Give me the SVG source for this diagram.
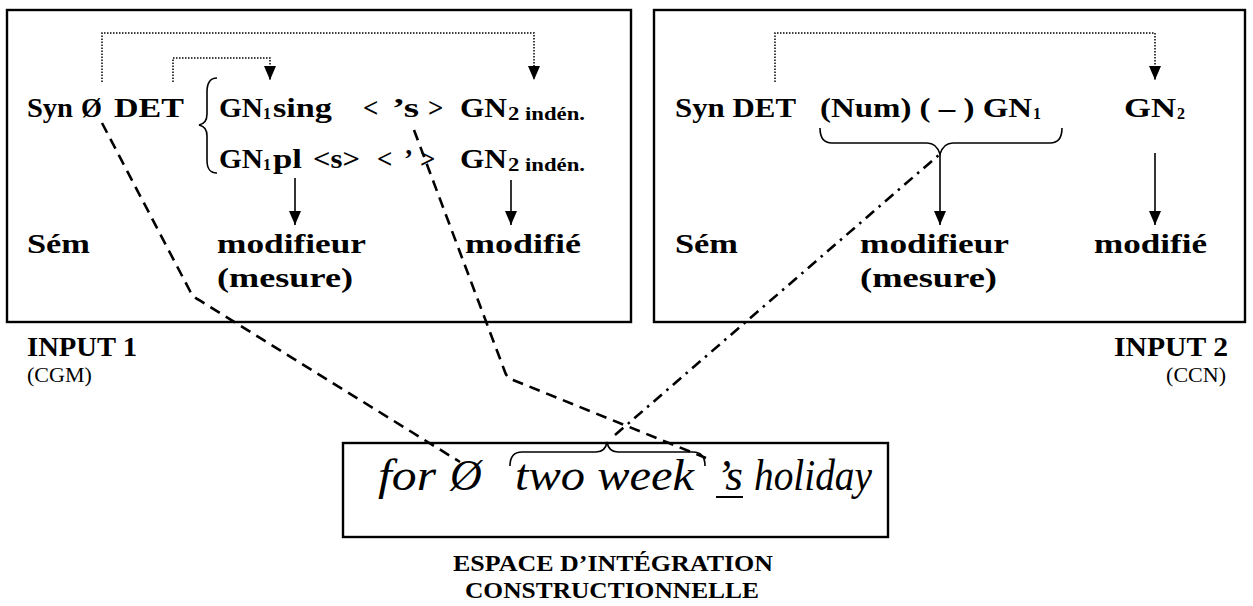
<svg xmlns="http://www.w3.org/2000/svg" width="1253" height="606" viewBox="0 0 1253 606">
<style>
.b{font-family:"Liberation Serif","Times New Roman",serif;font-weight:bold;font-size:27px;fill:#000}
.s{font-family:"Liberation Serif","Times New Roman",serif;font-weight:bold;font-size:16px;fill:#000}
.s2{font-family:"Liberation Serif","Times New Roman",serif;font-weight:bold;font-size:19px;fill:#000}
.r{font-family:"Liberation Serif","Times New Roman",serif;font-size:22px;fill:#000}
.lb{font-family:"Liberation Serif","Times New Roman",serif;font-weight:bold;font-size:24px;fill:#000}
.it{font-family:"Liberation Serif","Times New Roman",serif;font-style:italic;font-size:44px;fill:#000}
.box{fill:none;stroke:#000;stroke-width:2.4}
.dot{fill:none;stroke:#000;stroke-width:1.5;stroke-dasharray:1.5 1.5}
.sol{fill:none;stroke:#000;stroke-width:1.6}
.dash{fill:none;stroke:#000;stroke-width:2.6;stroke-dasharray:11 7}
.dd{fill:none;stroke:#000;stroke-width:2.6;stroke-dasharray:11 6 2.5 6}
.br{fill:none;stroke:#000;stroke-width:1.6}
</style>
<defs>
<marker id="ah" viewBox="0 0 14 12" refX="14" refY="6" markerWidth="14" markerHeight="12" orient="auto" markerUnits="userSpaceOnUse"><path d="M0,0 L14,6 L0,12 z" fill="#000" stroke="none"/></marker>
</defs>

<g id="input1">
<rect class="box" x="7" y="10" width="624" height="312"/>
<text class="b" x="27" y="117" textLength="46" lengthAdjust="spacingAndGlyphs">Syn</text>
<text class="b" x="81" y="117">Ø</text>
<text class="b" x="114" y="117" textLength="70" lengthAdjust="spacingAndGlyphs">DET</text>
<path class="br" d="M217 78 C209 78 207 84 207 92 L207 114 C207 121 204 124 199 125 C204 126 207 129 207 136 L207 160 C207 168 209 173 217 173"/>
<text class="b" x="219" y="117" textLength="44" lengthAdjust="spacingAndGlyphs">GN</text>
<text class="s" x="263" y="119">1</text>
<text class="b" x="273" y="117" textLength="59" lengthAdjust="spacingAndGlyphs">sing</text>
<text class="b" x="363" y="117">&lt;</text>
<text class="b" x="392" y="117" textLength="27" lengthAdjust="spacingAndGlyphs">’s</text>
<text class="b" x="428" y="117">&gt;</text>
<text class="b" x="460" y="117" textLength="47" lengthAdjust="spacingAndGlyphs">GN</text>
<text class="s2" x="508" y="120" textLength="77" lengthAdjust="spacingAndGlyphs">2 indén.</text>
<text class="b" x="219" y="168" textLength="44" lengthAdjust="spacingAndGlyphs">GN</text>
<text class="s" x="263" y="170">1</text>
<text class="b" x="273" y="168" textLength="29" lengthAdjust="spacingAndGlyphs">pl</text>
<text class="b" x="313" y="168" textLength="47" lengthAdjust="spacingAndGlyphs">&lt;s&gt;</text>
<text class="b" x="377" y="168">&lt;</text>
<text class="b" x="404" y="168">’</text>
<text class="b" x="420" y="168">&gt;</text>
<text class="b" x="460" y="168" textLength="47" lengthAdjust="spacingAndGlyphs">GN</text>
<text class="s2" x="508" y="171" textLength="77" lengthAdjust="spacingAndGlyphs">2 indén.</text>
<text class="b" x="27" y="253" textLength="63" lengthAdjust="spacingAndGlyphs">Sém</text>
<text class="b" x="217" y="253" textLength="149" lengthAdjust="spacingAndGlyphs">modifieur</text>
<text class="b" x="465" y="253" textLength="116" lengthAdjust="spacingAndGlyphs">modifié</text>
<text class="b" x="217" y="287" textLength="136" lengthAdjust="spacingAndGlyphs">(mesure)</text>
</g>

<g id="label1">
<text class="b" x="27" y="356" textLength="110" lengthAdjust="spacingAndGlyphs">INPUT 1</text>
<text class="r" x="27" y="382">(CGM)</text>
</g>

<g id="input2">
<rect class="box" x="654" y="10" width="591" height="312"/>
<text class="b" x="675" y="117" textLength="121" lengthAdjust="spacingAndGlyphs">Syn DET</text>
<text class="b" x="820" y="117" textLength="212" lengthAdjust="spacingAndGlyphs">(Num) ( – ) GN</text>
<text class="s" x="1033" y="119">1</text>
<text class="b" x="1124" y="117" textLength="52" lengthAdjust="spacingAndGlyphs">GN</text>
<text class="s" x="1177" y="119">2</text>
<path class="br" d="M820 128 C820 138 824 143 832 143 L927 143 C934 143 938 148 940 154 C942 148 946 143 953 143 L1050 143 C1058 143 1062 138 1062 128"/>
<text class="b" x="675" y="253" textLength="63" lengthAdjust="spacingAndGlyphs">Sém</text>
<text class="b" x="860" y="253" textLength="149" lengthAdjust="spacingAndGlyphs">modifieur</text>
<text class="b" x="1094" y="253" textLength="113" lengthAdjust="spacingAndGlyphs">modifié</text>
<text class="b" x="860" y="287" textLength="137" lengthAdjust="spacingAndGlyphs">(mesure)</text>
</g>

<g id="label2">
<text class="b" x="1228" y="356" text-anchor="end" textLength="114" lengthAdjust="spacingAndGlyphs">INPUT 2</text>
<text class="r" x="1226" y="382" text-anchor="end">(CCN)</text>
</g>

<g id="blend">
<rect class="box" x="343" y="443" width="545" height="94"/>
<text class="it" x="378" y="490" textLength="58" lengthAdjust="spacingAndGlyphs">for</text>
<text class="it" x="450" y="490">Ø</text>
<text class="it" x="515" y="490" textLength="179" lengthAdjust="spacingAndGlyphs">two week</text>
<text class="it" x="716" y="490" textLength="27" lengthAdjust="spacingAndGlyphs">’s</text>
<line x1="716" y1="497" x2="743" y2="497" stroke="#000" stroke-width="2"/>
<text class="it" x="754" y="490" textLength="118" lengthAdjust="spacingAndGlyphs">holiday</text>
<path class="br" d="M510 466 C510 456 514 452 522 452 L596 452 C603 452 606 448 607 442 C608 448 611 452 618 452 L693 452 C701 452 705 456 705 466"/>
</g>

<g id="label3">
<text class="lb" x="613" y="571" text-anchor="middle" textLength="320" lengthAdjust="spacingAndGlyphs">ESPACE D’INTÉGRATION</text>
<text class="lb" x="612" y="598" text-anchor="middle" textLength="294" lengthAdjust="spacingAndGlyphs">CONSTRUCTIONNELLE</text>
</g>

<g id="connectors">
<path class="dot" d="M102 82 V33 H534 V80" marker-end="url(#ah)"/>
<path class="dot" d="M173 82 V58 H270 V80" marker-end="url(#ah)"/>
<path class="sol" d="M295 178 V225" marker-end="url(#ah)"/>
<path class="sol" d="M511 180 V225" marker-end="url(#ah)"/>
<path class="dot" d="M775 82 V33 H1155 V80" marker-end="url(#ah)"/>
<path class="sol" d="M940 154 V225" marker-end="url(#ah)"/>
<path class="sol" d="M1155 153 V225" marker-end="url(#ah)"/>
<path class="dash" d="M102 123 L190 291 Q193 297 199 300 L460 462"/>
<path class="dash" d="M414 130 L505 372 Q507 378 513 380 L706 458"/>
<path class="dd" d="M615 435 L940 154"/>
</g>
</svg>
